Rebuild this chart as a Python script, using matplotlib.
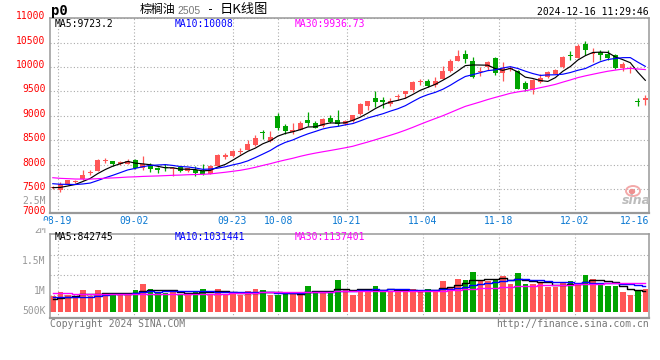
import matplotlib
matplotlib.use("Agg")
import matplotlib.pyplot as plt
from matplotlib.patches import Ellipse, Rectangle
from matplotlib.transforms import blended_transform_factory
import numpy as np
import pandas as pd

W, H = 660, 360

# trading days on screen: 08-16 (index -1) ... 12-16 (index 78)
first_index = -1
tick_labels = ["08-19", "09-02", "09-23", "10-08", "10-21", "11-04", "11-18", "12-02"]
tick_index = [0, 10, 23, 29, 38, 48, 58, 68]
last_label = "12-16"

open_ = [7510, 7470, 7595, 7645, 7710, 7835, 7875, 8075, 8070, 8015,
         8015, 8100, 7930, 8000, 7935, 7935, 7915, 7945, 7865, 7890,
         7860, 7810, 7980, 8145, 8185, 8255, 8300, 8400, 8670, 8490,
         9000, 8790, 8660, 8715, 8910, 8860, 8795, 8950, 8910, 8830,
         8885, 9030, 9200, 9355, 9320, 9235, 9385, 9450, 9520, 9700,
         9720, 9625, 9760, 9910, 10130, 10265, 10115, 9900, 9995, 10195,
         9880, 9970, 9910, 9675, 9525, 9690, 9790, 9860, 9995, 10240,
         10185, 10475, 10265, 10315, 10270, 10250, 9980, 9950, 9300, 9320]
high = [7560, 7640, 7690, 7680, 7878, 7885, 8115, 8130, 8075, 8080,
        8115, 8105, 8170, 8025, 7945, 8015, 7945, 7955, 7935, 7980,
        8010, 7990, 8215, 8230, 8305, 8330, 8500, 8605, 8710, 8690,
        9050, 8825, 8850, 8895, 9075, 8895, 8965, 9010, 9110, 8905,
        9020, 9260, 9300, 9500, 9385, 9355, 9450, 9510, 9710, 9765,
        9765, 9790, 10015, 10165, 10350, 10350, 10205, 10000, 10130, 10215,
        10095, 10025, 9945, 9710, 9750, 9860, 9910, 9955, 10230, 10320,
        10470, 10540, 10385, 10350, 10340, 10270, 10095, 10015, 9370, 9435]
low = [7490, 7440, 7580, 7630, 7680, 7790, 7870, 8040, 7970, 8000,
       8005, 7915, 7880, 7845, 7825, 7860, 7775, 7840, 7855, 7765,
       7790, 7800, 7975, 8115, 8165, 8210, 8290, 8375, 8520, 8455,
       8710, 8625, 8620, 8700, 8795, 8740, 8765, 8860, 8790, 8815,
       8870, 9020, 9120, 9180, 9150, 9200, 9315, 9355, 9485, 9625,
       9600, 9595, 9750, 9900, 10120, 10080, 9775, 9810, 9945, 9845,
       9710, 9910, 9540, 9505, 9440, 9675, 9775, 9850, 9990, 10150,
       10180, 10250, 10095, 10150, 10150, 9960, 9910, 9880, 9200, 9215]
close = [7525, 7605, 7675, 7660, 7795, 7845, 8100, 8090, 8005, 8045,
         8080, 7925, 8015, 7915, 7885, 7925, 7935, 7860, 7925, 7835,
         7800, 7980, 8205, 8195, 8270, 8265, 8420, 8535, 8640, 8575,
         8745, 8695, 8705, 8860, 8850, 8760, 8930, 8875, 8830, 8890,
         9010, 9250, 9295, 9290, 9285, 9300, 9415, 9505, 9685, 9710,
         9605, 9720, 9925, 10115, 10230, 10155, 9790, 9915, 10100, 9880,
         9980, 9985, 9560, 9560, 9740, 9775, 9890, 9945, 10215, 10225,
         10440, 10340, 10275, 10250, 10195, 9980, 10060, 9960, 9280, 9360]
volume = [640000, 780000, 646000, 578000, 848000, 619000, 888000, 753000, 713000, 713000,
          713000, 848000, 1130000, 928000, 753000, 753000, 848000, 686000, 713000, 821000,
          928000, 713000, 928000, 686000, 713000, 686000, 821000, 928000, 848000, 686000,
          659000, 713000, 780000, 780000, 1023000, 753000, 753000, 821000, 1265000, 888000,
          686000, 928000, 821000, 1023000, 888000, 821000, 821000, 821000, 928000, 821000,
          928000, 888000, 1225000, 982000, 1292000, 1265000, 1588000, 1225000, 1225000, 1292000,
          1426000, 1090000, 1547000, 1090000, 1090000, 1157000, 996000, 996000, 1184000, 1225000,
          1130000, 1493000, 1332000, 1090000, 1023000, 1020000, 780000, 659000, 848000, 910000]

# sessions before the window, estimated from where the MA lines start on the left edge
earlier_close = [7990, 7870, 7880, 7850, 7835, 7845, 7820, 7810, 7800, 7790,
                 7780, 7770, 7760, 7750, 7740, 7730, 7720, 7710, 7700, 7680,
                 7720, 7700, 7690, 7680, 7650, 7580, 7530, 7500, 7495]
earlier_volume = [820000, 790000, 850000, 760000, 830000, 800000, 780000, 870000, 810000, 790000,
                  760000, 840000, 800000, 780000, 820000, 790000, 810000, 770000, 830000, 790000,
                  760000, 720000, 690000, 700000, 640000, 480000, 450000, 470000, 420000]

ma_windows = [5, 10, 30]
ma_colors = ["#000000", "#0000ff", "#ff00ff"]
ma_price_text = ["MA5:9723.2", "MA10:10008", "MA30:9936.73"]
ma_vol_text = ["MA5:842745", "MA10:1031441", "MA30:1137401"]
price_ticks = [7000, 7500, 8000, 8500, 9000, 9500, 10000, 10500, 11000]
vol_labels = ["2.5M", "2M", "1.5M", "1M", "500K"]

RED = "#ff5656"
GREEN = "#00a400"
GRID = "#aaaaaa"
BORDER = "#999999"
MONO = "DejaVu Sans Mono"
CJK = ["Noto Sans CJK SC", "DejaVu Sans"]

# pixel layout of the sina picture
CANDLE_X0 = 60.3   # px of index 0
STEP = 7.5         # px per session
GRID_STEP = 7.61   # date grid is laid out on a slightly wider step
GRID_X0 = 57.5
LEFT, RIGHT = 50.0, 649.3
VPX = 40364.0      # volume per px in lower panel
VOL_ZERO = 311.5   # px of zero volume


def fx(px):
    return px / W


def fy(py):
    return 1 - py / H


def px_to_index(px):
    return (px - CANDLE_X0) / STEP


def style_panel(ax):
    for sp in ax.spines.values():
        sp.set_color(BORDER)
        sp.set_linewidth(1.1)
    ax.spines["bottom"].set_linewidth(1.6)
    ax.tick_params(length=0, labelleft=False, labelbottom=False)
    ax.set_xlim(px_to_index(LEFT), px_to_index(RIGHT))
    ax.set_axisbelow(True)
    ax.grid(True, color=GRID, linestyle=(0, (1, 2)), linewidth=0.8)


def main():
    fig = plt.figure(figsize=(W / 100, H / 100), dpi=100)
    fig.patch.set_facecolor("white")

    x = np.arange(first_index, first_index + len(close))
    o = np.array(open_, float)
    c = np.array(close, float)
    hi = np.array(high, float)
    lo = np.array(low, float)
    vol = np.array(volume, float)
    colors = np.where(c >= o, RED, GREEN)
    grid_pos = [px_to_index(GRID_X0 + GRID_STEP * i) for i in tick_index]

    # ---- price panel
    ax = fig.add_axes([fx(LEFT), fy(213.3), fx(RIGHT) - fx(LEFT), (213.3 - 18.3) / H])
    style_panel(ax)
    ax.set_ylim(7000, 11000)
    ax.set_yticks(price_ticks)
    ax.set_xticks(grid_pos)

    ax.vlines(x, lo, hi, colors=colors, linewidth=0.9, zorder=2)
    ax.bar(x, np.maximum(np.abs(c - o), 20), bottom=np.minimum(o, c), width=0.7,
           color=colors, linewidth=0, zorder=2)

    all_close = pd.Series(earlier_close + close, dtype=float)
    for w, col in zip(ma_windows, ma_colors):
        ma = all_close.rolling(w).mean().iloc[len(earlier_close):].to_numpy()
        ax.plot(x, ma, color=col, linewidth=0.85, zorder=3)

    ylab_tr = blended_transform_factory(ax.transAxes, ax.transData)
    for v in price_ticks:
        ax.text(-0.0072, v + 40, str(v), transform=ylab_tr, ha="right", va="center",
                color="#ff0000", fontsize=7, family=MONO)
    xlab_tr = blended_transform_factory(ax.transData, ax.transAxes)
    for pos, lab in zip(grid_pos, tick_labels):
        ax.text(pos, -0.04, lab, transform=xlab_tr, ha="center", va="center",
                color="#0a78d2", fontsize=7, family=MONO)
    ax.text(1.0, -0.04, last_label, transform=ax.transAxes, ha="right", va="center",
            color="#0a78d2", fontsize=7, family=MONO)

    for xpos, txt, col in zip([54.3, 175, 295], ma_price_text, ma_colors):
        fig.text(fx(xpos), fy(24), txt, ha="left", va="center", color=col,
                 fontsize=7, family=MONO)

    # sina watermark
    fig.text(fx(636), fy(200), "sina", ha="center", va="center", color="#bcbcbc",
             fontsize=9, fontweight="bold", style="italic", family="DejaVu Sans")
    fig.add_artist(Ellipse((fx(633), fy(191)), 14 / W, 10 / H, fill=False,
                           edgecolor="#f3a9a9", linewidth=1.4))
    fig.add_artist(Ellipse((fx(632), fy(191.5)), 5 / W, 4 / H, color="#ee9090"))

    # ---- volume panel
    vx = fig.add_axes([fx(LEFT), fy(318.3), fx(RIGHT) - fx(LEFT), (318.3 - 234.3) / H])
    style_panel(vx)
    vx.set_ylim(-(318.3 - VOL_ZERO) * VPX, (VOL_ZERO - 234.3) * VPX)
    vx.set_yticks([(VOL_ZERO - py) * VPX for py in (255, 275, 295)])
    vx.set_xticks(grid_pos)
    vx.bar(x, vol, width=0.74, color=colors, linewidth=0, zorder=2)

    all_vol = pd.Series(earlier_volume + volume, dtype=float)
    for w, col in zip(ma_windows, ma_colors):
        ma = all_vol.rolling(w).mean().iloc[len(earlier_volume):].to_numpy()
        vx.plot(x, ma, color=col, linewidth=1.0, drawstyle="steps-mid", zorder=3)

    for xpos, txt, col in zip([54.3, 175, 295], ma_vol_text, ma_colors):
        fig.text(fx(xpos), fy(237.3), txt, ha="left", va="center", color=col,
                 fontsize=7, family=MONO)

    for py, lab in zip([200.7, 230, 260.7, 290.7, 310.7], vol_labels):
        fig.text(fx(45.7), fy(py), lab, ha="right", va="center", color="#999999",
                 fontsize=7, family=MONO)
    # the "2M" label is half hidden behind the date strip
    fig.add_artist(Rectangle((fx(20), fy(227.3)), fx(48) - fx(20), 6 / H,
                             color="white", zorder=10))

    # ---- header and footer
    fig.text(fx(51), fy(10.5), "p0", ha="left", va="center", fontsize=10,
             fontweight="bold", family=MONO)
    fig.text(fx(140), fy(9.5), "棕榈油", ha="left", va="center", fontsize=8.6,
             family=CJK)
    fig.text(fx(177), fy(10.5), "2505", ha="left", va="center", fontsize=7.5,
             color="#777777", family="Liberation Sans")
    fig.text(fx(210.5), fy(10), "-", ha="center", va="center", fontsize=8.5,
             family=MONO)
    fig.text(fx(220), fy(9.5), "日K线图", ha="left", va="center", fontsize=9.5,
             family=CJK)
    fig.text(fx(648.3), fy(12.2), "2024-12-16 11:29:46", ha="right", va="center",
             fontsize=7, family=MONO)
    fig.text(fx(50), fy(323.7), "Copyright 2024 SINA.COM", ha="left", va="center",
             color="#777777", fontsize=7, family=MONO)
    fig.text(fx(649.3), fy(323.7), "http://finance.sina.com.cn", ha="right", va="center",
             color="#777777", fontsize=7, family=MONO)

    fig.savefig("out.png", dpi=100, facecolor="white")
    plt.close(fig)


if __name__ == "__main__":
    main()
